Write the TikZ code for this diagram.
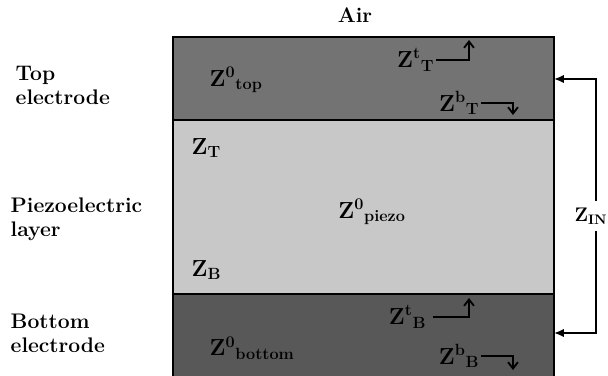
\documentclass[tikz,border=0pt]{standalone}
\usepackage{tikz}
\usetikzlibrary{
    arrows.meta,
    positioning
}
\usepackage{xcolor}
\definecolor{topgray}{RGB}{115,115,115}
\definecolor{botgray}{RGB}{88,88,88}
\definecolor{piezogray}{RGB}{200,200,200}

\begin{document}
\begin{tikzpicture}[
        x=0.025cm, y=-0.025cm,
        >=Stealth,
        lbl/.style={
            font=\fontsize{15}{17}\selectfont\bfseries,
            inner sep=1pt
        },
        zlbl/.style={
            font=\fontsize{16.5}{18}\selectfont\bfseries,
            inner sep=1pt
        },
        side/.style={
            lbl,
            align=left,
            anchor=west
        },
        layer/.style={
            draw=black,
            line width=1.4pt
        },
        flow/.style={
            line width=1.3pt,
            -{Straight Barb[length=4.5pt,width=7pt]}
        }
    ]
        \useasboundingbox (0,0) rectangle (608,376);
        % layers
        \fill[piezogray] (173,120) rectangle (554,294);
        \draw[layer, fill=topgray] (173,37) rectangle (554,120);
        \draw[layer, fill=botgray] (173,294) rectangle (554,380);
        \draw[layer] (173,120) -- (173,294);
        \draw[layer] (554,120) -- (554,294);

        \node[lbl] (air) at (355,15) {Air};
        \node[side] (top) at (14,85) {Top\\electrode};
        \node[side] (piezo) at (9,219) {Piezoelectric\\layer};
        \node[side] (bottom) at (9,333) {Bottom\\electrode};

        \node[zlbl, anchor=west] (z0top) at (208,80) {Z\textsuperscript{0}\textsubscript{top}};
        \node[zlbl, anchor=west] (zT) at (190,148) {Z\textsubscript{T}};
        \node[zlbl] (z0piezo) at (372,212) {Z\textsuperscript{0}\textsubscript{piezo}};
        \node[zlbl, anchor=west] (zB) at (190,270) {Z\textsubscript{B}};
        \node[zlbl, anchor=west] (z0bot) at (208,348) {Z\textsuperscript{0}\textsubscript{bottom}};

        \node[zlbl, anchor=east] (ztT) at (436,60) {Z\textsuperscript{t}\textsubscript{T}};
        \node[zlbl, anchor=east] (zbT) at (481,103) {Z\textsuperscript{b}\textsubscript{T}};
        \node[zlbl, anchor=east] (ztB) at (428,317) {Z\textsuperscript{t}\textsubscript{B}};
        \node[zlbl, anchor=east] (zbB) at (481,356) {Z\textsuperscript{b}\textsubscript{B}};
        \node[lbl, inner sep=0pt, font=\fontsize{14}{16}\selectfont\bfseries] (zin) at (591,216) {Z\textsubscript{IN}};

        \coordinate (ztTend) at (469,40);
        \coordinate (zbTend) at (513,115);
        \coordinate (ztBend) at (469,298);
        \coordinate (zbBend) at (513,370);
        \coordinate (inTop) at (554,79);
        \coordinate (inBot) at (554,333);

        \draw[flow] (ztT.east) -| (ztTend);
        \draw[flow] (zbT.east) -| (zbTend);
        \draw[flow] (ztB.east) ++(5,0) -| (ztBend);
        \draw[flow] (zbB.east) -| (zbBend);

        \draw[-{Latex[length=7pt,width=6pt]}, line width=1.3pt] (596,201) |- (inTop);
        \draw[-{Latex[length=7pt,width=6pt]}, line width=1.3pt] (596,231) |- (inBot);
    \end{tikzpicture}
\end{document}
